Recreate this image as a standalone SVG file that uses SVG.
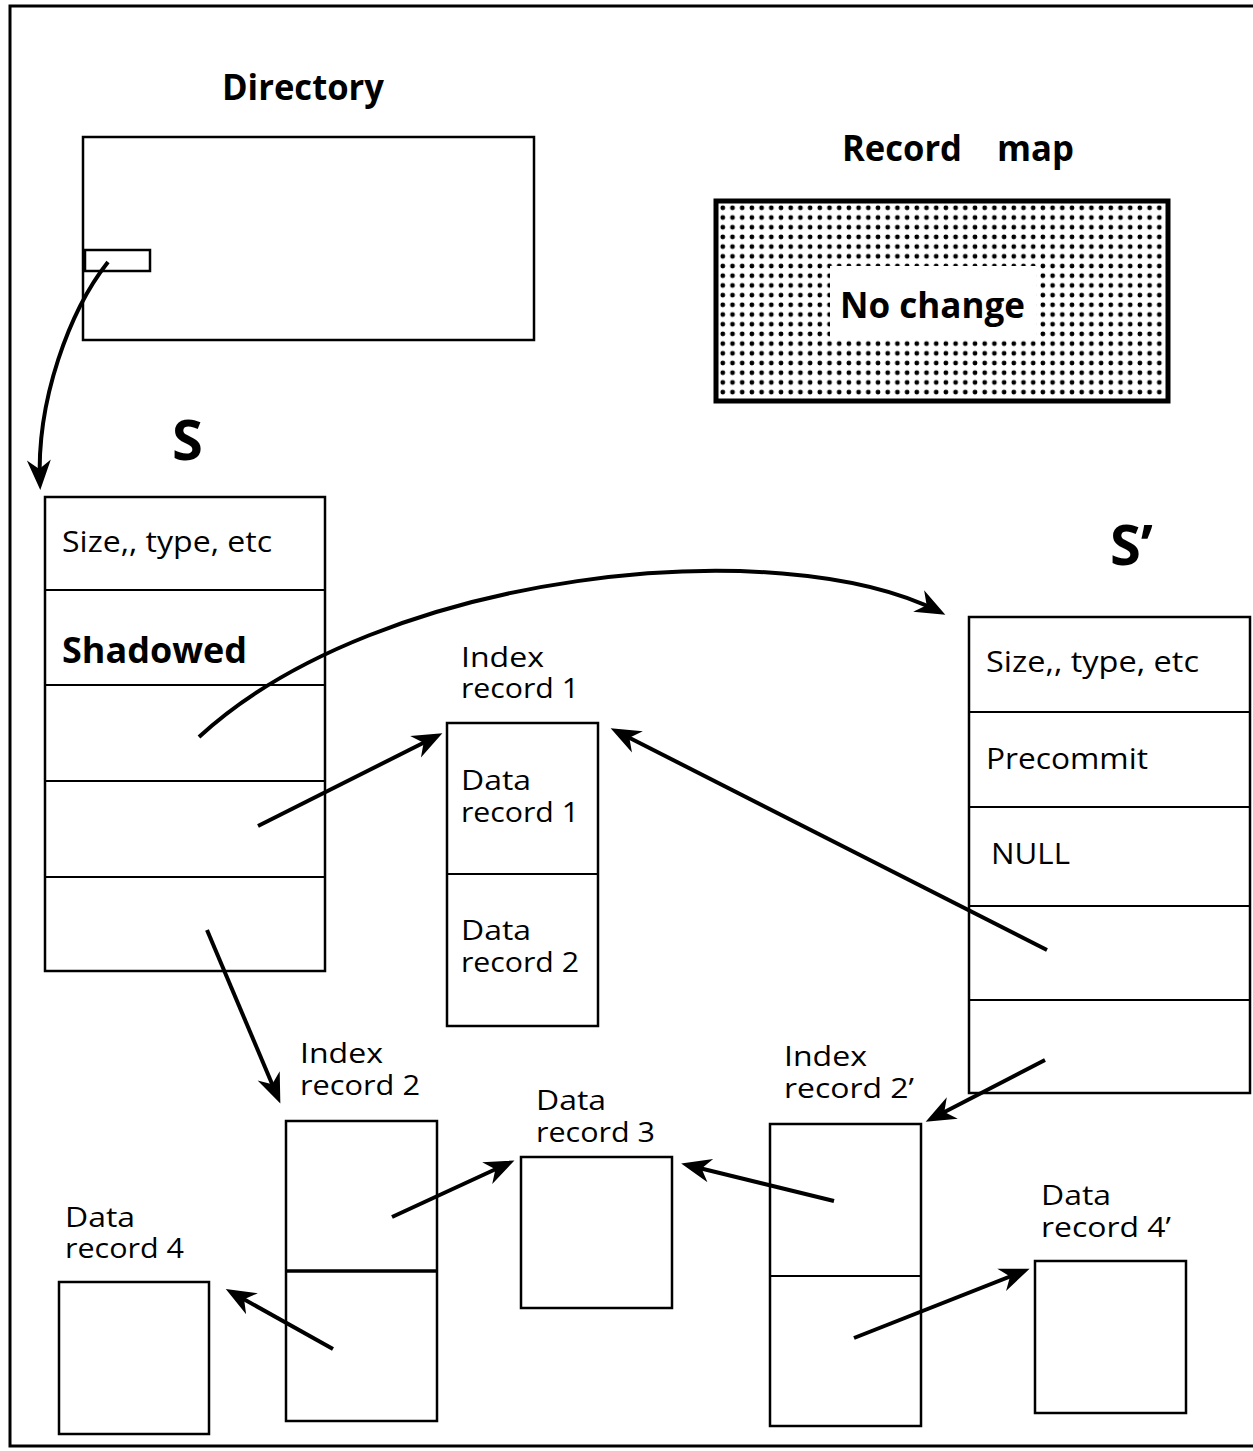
<svg xmlns="http://www.w3.org/2000/svg" width="1253" height="1451" viewBox="0 0 1253 1451">
<style>
.box{fill:#fff;stroke:#000;stroke-width:2.5}
.div{stroke:#000;stroke-width:2}
.t{font-family:"Open Sans","Liberation Sans",sans-serif;font-size:30px;fill:#000}
.l{font-family:"Open Sans","Liberation Sans",sans-serif;font-size:28px;fill:#000}
.b{font-family:"Open Sans","Liberation Sans",sans-serif;font-size:35px;font-weight:bold;fill:#000}
.big{font-family:"Open Sans","Liberation Sans",sans-serif;font-size:56px;font-weight:bold;fill:#000}
.arr{fill:none;stroke:#000;stroke-width:4;marker-end:url(#ah)}
</style>
<defs>
<marker id="ah" markerUnits="userSpaceOnUse" viewBox="-30 -15 40 30" markerWidth="40" markerHeight="30" refX="0" refY="0" orient="auto" overflow="visible">
<path d="M6,0 L-24,-12 L-15,0 L-24,12 Z" fill="#000"/>
</marker>
<pattern id="dots" patternUnits="userSpaceOnUse" x="718" y="203" width="9.7" height="9.7">
<circle cx="4.8" cy="4.8" r="2.4" fill="#000"/>
</pattern>
</defs>
<rect width="1253" height="1451" fill="#fff"/>
<rect x="10" y="6" width="1252" height="1440" fill="none" stroke="#000" stroke-width="3"/>

<g id="directory">
<text class="b" x="222" y="100" textLength="162" lengthAdjust="spacingAndGlyphs">Directory</text>
<rect class="box" x="83" y="137" width="451" height="203"/>
<rect class="box" x="85" y="250" width="65" height="21" stroke-width="2"/>
</g>

<g id="record-map">
<text class="b" x="842" y="161" textLength="120" lengthAdjust="spacingAndGlyphs">Record</text>
<text class="b" x="997" y="161" textLength="77" lengthAdjust="spacingAndGlyphs">map</text>
<rect x="716" y="201" width="452" height="200" fill="url(#dots)" stroke="#000" stroke-width="5"/>
<rect x="830" y="266" width="206" height="73" fill="#fff"/>
<text class="b" x="840" y="318" textLength="185" lengthAdjust="spacingAndGlyphs">No change</text>
</g>

<g id="S">
<text class="big" x="172" y="460">S</text>
<rect class="box" x="45" y="497" width="280" height="474"/>
<line class="div" x1="45" y1="590" x2="325" y2="590"/>
<line class="div" x1="45" y1="685" x2="325" y2="685"/>
<line class="div" x1="45" y1="781" x2="325" y2="781"/>
<line class="div" x1="45" y1="877" x2="325" y2="877"/>
<text class="t" x="62" y="552" textLength="210" lengthAdjust="spacingAndGlyphs">Size,, type, etc</text>
<text class="b" x="62" y="663" textLength="185" lengthAdjust="spacingAndGlyphs">Shadowed</text>
</g>

<g id="S-prime">
<text class="big" x="1110" y="565">S’</text>
<rect class="box" x="969" y="617" width="281" height="476"/>
<line class="div" x1="969" y1="712" x2="1250" y2="712"/>
<line class="div" x1="969" y1="807" x2="1250" y2="807"/>
<line class="div" x1="969" y1="906" x2="1250" y2="906"/>
<line class="div" x1="969" y1="1000" x2="1250" y2="1000"/>
<text class="t" x="986" y="672" textLength="213" lengthAdjust="spacingAndGlyphs">Size,, type, etc</text>
<text class="t" x="986" y="769" textLength="162" lengthAdjust="spacingAndGlyphs">Precommit</text>
<text class="t" x="991" y="864" textLength="79" lengthAdjust="spacingAndGlyphs">NULL</text>
</g>

<g id="index-record-1">
<text class="l" x="461" y="667" textLength="83" lengthAdjust="spacingAndGlyphs">Index</text>
<text class="l" x="461" y="698" textLength="118" lengthAdjust="spacingAndGlyphs">record 1</text>
<rect class="box" x="447" y="723" width="151" height="303"/>
<line class="div" x1="447" y1="874" x2="598" y2="874"/>
<text class="l" x="461" y="790" textLength="70" lengthAdjust="spacingAndGlyphs">Data</text>
<text class="l" x="461" y="822" textLength="118" lengthAdjust="spacingAndGlyphs">record 1</text>
<text class="l" x="461" y="940" textLength="70" lengthAdjust="spacingAndGlyphs">Data</text>
<text class="l" x="461" y="972" textLength="118" lengthAdjust="spacingAndGlyphs">record 2</text>
</g>

<g id="index-record-2">
<text class="l" x="300" y="1063" textLength="83" lengthAdjust="spacingAndGlyphs">Index</text>
<text class="l" x="300" y="1095" textLength="120" lengthAdjust="spacingAndGlyphs">record 2</text>
<rect class="box" x="286" y="1121" width="151" height="300"/>
<line x1="286" y1="1271" x2="437" y2="1271" stroke="#000" stroke-width="3.5"/>
</g>

<g id="data-record-3">
<text class="l" x="536" y="1110" textLength="70" lengthAdjust="spacingAndGlyphs">Data</text>
<text class="l" x="536" y="1142" textLength="119" lengthAdjust="spacingAndGlyphs">record 3</text>
<rect class="box" x="521" y="1157" width="151" height="151"/>
</g>

<g id="index-record-2-prime">
<text class="l" x="784" y="1066" textLength="83" lengthAdjust="spacingAndGlyphs">Index</text>
<text class="l" x="784" y="1098" textLength="130" lengthAdjust="spacingAndGlyphs">record 2’</text>
<rect class="box" x="770" y="1124" width="151" height="302"/>
<line class="div" x1="770" y1="1276" x2="921" y2="1276"/>
</g>

<g id="data-record-4-prime">
<text class="l" x="1041" y="1205" textLength="70" lengthAdjust="spacingAndGlyphs">Data</text>
<text class="l" x="1041" y="1237" textLength="130" lengthAdjust="spacingAndGlyphs">record 4’</text>
<rect class="box" x="1035" y="1261" width="151" height="152"/>
</g>

<g id="data-record-4">
<text class="l" x="65" y="1227" textLength="70" lengthAdjust="spacingAndGlyphs">Data</text>
<text class="l" x="65" y="1258" textLength="119" lengthAdjust="spacingAndGlyphs">record 4</text>
<rect class="box" x="59" y="1282" width="150" height="152"/>
</g>

<g id="connectors">
<path class="arr" d="M108,262 C70,310 36,400 40,484"/>
<path class="arr" d="M199,737 C380,570 780,530 940,612"/>
<path class="arr" d="M258,826 L437,736"/>
<path class="arr" d="M1047,950 L616,731"/>
<path class="arr" d="M207,930 L278,1098"/>
<path class="arr" d="M1045,1060 L931,1119"/>
<path class="arr" d="M392,1217 L509,1163"/>
<path class="arr" d="M834,1201 L687,1165"/>
<path class="arr" d="M333,1349 L231,1292"/>
<path class="arr" d="M854,1338 L1024,1271"/>
</g>
</svg>
